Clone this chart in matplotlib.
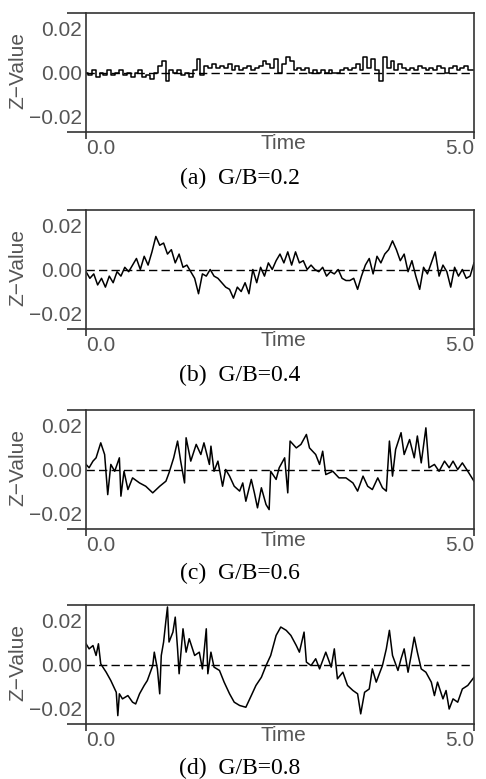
import numpy as np
import matplotlib
matplotlib.use("Agg")
import matplotlib.pyplot as plt

# time grid for panel (a) and (b) (read every 0.05)
t_ab = np.linspace(0, 5, 101)

# Z-values in units of 1e-3
z_a = [0, -1, 1, -2, 0, -1, 1, -1, 0, 1, -1, 0, -2, 0, 1, -2, -1, -3, 0, 3,
       5, -4, 1, 0, 1, -1, 0, -2, 1, 6, -1, 3, 2, 4, 2, 3, 2, 4, 1, 3,
       1, 2, 3, 1, 2, 3, 5, 4, 2, 6, 0, 4, 7, 5, 1, 2, 1, 2, 0, 1,
       0, 1, 0, 1, 0, 0, 1, 2, 1, 2, 4, 1, 7, 2, 6, 1, -4, 7, 2, 5,
       1, 4, 2, 1, 2, 1, 3, 2, 1, 2, 1, 3, 2, 0, 2, 3, 1, 2, 3, 1, 1]

z_b = [-1, -4, -2, -7, -4, -8, -3, -6, -1, -3, 1, -1, 2, 5, 0, 6, 2, 8, 15, 11,
       12, 7, 9, 3, 7, 1, 2, -1, -4, -11, -2, -3, 0, -3, -4, -6, -8, -9, -13, -8,
       -10, -6, -11, 0, -6, 1, -3, 3, 0, 4, 7, 3, 8, 2, 8, 3, 4, 0, 2, 0,
       -1, 1, -3, -1, -2, 0, -4, -5, -5, -4, -9, -3, 2, 5, -2, 6, 3, 7, 9, 13,
       9, 4, 7, -1, 4, -3, -9, 1, -2, 3, 8, -3, 2, -1, -8, 1, -3, 0, -4, -3, 3]

t_c = [0.00, 0.04, 0.09, 0.13, 0.19, 0.24, 0.28, 0.32, 0.37, 0.43, 0.45, 0.49, 0.54, 0.60,
       0.69, 0.77, 0.86, 0.95, 1.03, 1.07, 1.13, 1.18, 1.22, 1.27, 1.29, 1.35, 1.42, 1.48,
       1.52, 1.59, 1.61, 1.65, 1.70, 1.76, 1.80, 1.85, 1.91, 1.98, 2.02, 2.06, 2.13, 2.17,
       2.21, 2.26, 2.32, 2.36, 2.38, 2.45, 2.49, 2.56, 2.60, 2.63, 2.71, 2.77, 2.84, 2.88,
       2.96, 3.01, 3.05, 3.09, 3.18, 3.26, 3.35, 3.44, 3.50, 3.57, 3.63, 3.69, 3.76, 3.82,
       3.87, 3.91, 3.95, 3.99, 4.06, 4.10, 4.17, 4.23, 4.27, 4.32, 4.38, 4.42, 4.49, 4.55,
       4.62, 4.68, 4.73, 4.79, 4.85, 4.92, 5.00]
z_c = [2.3, 0.8, 3.8, 5.3, 12.1, 6.8, -11.4, 2.3, -0.8, 5.3, -12.1, -0.8, -9.1, -3.8,
       -6.1, -7.6, -10.6, -7.6, -5.3, -1.5, 5.3, 12.9, 3.8, -6.1, 14.4, 3.8, 11.4, 6.8,
       12.1, 2.3, 10.6, -0.8, 3.8, -7.6, 0.0, -3.0, -7.6, -9.8, -6.1, -14.4, -4.5, -10.6,
       -17.4, -8.3, -15.9, -18.2, -0.8, -4.5, 0.8, 5.3, -10.6, 12.9, 9.8, 11.4, 15.9, 9.8,
       6.8, 2.3, 8.3, -2.3, -0.8, -3.8, -3.8, -6.1, -9.8, -3.0, -7.6, -9.1, -3.8, -8.3,
       -9.8, 12.9, -3.0, 9.1, 16.7, 6.8, 13.6, 5.3, 15.2, 3.0, 18.9, 0.8, 2.3, -0.8,
       3.8, 0.8, 3.8, 0.0, 3.0, -0.8, -5.3]

t_d = [0.00, 0.04, 0.09, 0.13, 0.16, 0.19, 0.26, 0.32, 0.39, 0.41, 0.43, 0.47, 0.54, 0.60,
       0.64, 0.69, 0.75, 0.79, 0.86, 0.88, 0.92, 0.95, 0.97, 1.00, 1.03, 1.05, 1.07, 1.12,
       1.15, 1.18, 1.20, 1.25, 1.29, 1.33, 1.40, 1.46, 1.50, 1.55, 1.57, 1.61, 1.65, 1.72,
       1.78, 1.85, 1.91, 1.98, 2.06, 2.13, 2.19, 2.26, 2.32, 2.38, 2.45, 2.51, 2.58, 2.64,
       2.71, 2.75, 2.81, 2.84, 2.90, 2.96, 3.01, 3.09, 3.16, 3.20, 3.24, 3.31, 3.37, 3.44,
       3.50, 3.54, 3.59, 3.65, 3.69, 3.74, 3.78, 3.82, 3.87, 3.91, 3.95, 4.02, 4.06, 4.10,
       4.15, 4.19, 4.23, 4.27, 4.32, 4.38, 4.45, 4.49, 4.53, 4.60, 4.64, 4.68, 4.73, 4.79,
       4.85, 4.92, 5.00]
z_d = [9.4, 7.1, 8.6, 4.1, 9.4, 0.3, -3.5, -7.3, -12.6, -23.2, -13.3, -15.6, -14.1, -17.1,
       -17.9, -13.3, -9.5, -7.3, -0.5, 5.6, -2.0, -13.3, 4.1, 10.2, 20.0, 26.1, 10.2, 14.7,
       21.5, 7.1, -4.2, 16.2, 5.6, 11.7, 4.1, 5.6, -2.0, 16.2, -4.2, 5.6, -1.2, -2.7,
       -8.0, -13.3, -17.1, -18.6, -19.4, -14.1, -9.5, -5.8, -0.5, 4.1, 13.2, 17.0, 15.5, 13.2,
       8.6, 5.6, 14.7, 1.1, -0.5, 2.6, -2.0, 5.6, -1.2, 7.1, -6.5, -3.5, -9.5, -11.8,
       -13.3, -22.4, -12.6, -11.1, -2.0, -8.0, -4.2, -0.5, 7.1, 15.5, 4.1, -2.7, 2.6, 7.1,
       -3.5, 4.1, 12.4, 5.6, -2.0, -3.5, -8.0, -14.1, -8.0, -15.6, -11.8, -20.2, -15.6, -17.1,
       -11.1, -9.5, -5.8]

panels = [
    (t_ab, z_a, "(a)  G/B=0.2", "steps-mid"),
    (t_ab, z_b, "(b)  G/B=0.4", "default"),
    (t_c, z_c, "(c)  G/B=0.6", "default"),
    (t_d, z_d, "(d)  G/B=0.8", "default"),
]

plt.rcParams["font.family"] = ["Liberation Sans", "DejaVu Sans"]
W, H = 486, 779
fig = plt.figure(figsize=(W / 100, H / 100), dpi=100)

tops = [13, 210, 410, 605]
caption_y = [178, 375, 573, 768]
gray = "#555555"
frame = "#333333"

for (t, z, cap, ds), top, cy in zip(panels, tops, caption_y):
    ax = fig.add_axes([86 / W, 1 - (top + 119) / H, 388 / W, 119 / H])
    ax.plot(t, np.array(z) * 1e-3, color="black", lw=1.1, drawstyle=ds)
    ax.axhline(0, color="black", lw=1.0, ls=(0, (6, 3)))
    ax.set_xlim(0, 5)
    ax.set_ylim(-0.027, 0.027)

    for s in ax.spines.values():
        s.set_color(frame)
        s.set_linewidth(1.2)

    ax.set_yticks([-0.02, 0.0, 0.02])
    ax.set_yticklabels(["\u22120.02", "0.00", "0.02"])
    ax.set_yticks([-0.027, 0.027], minor=True)
    ax.tick_params(axis="y", which="major", length=0, pad=3, labelsize=15, labelcolor=gray)
    ax.tick_params(axis="y", which="minor", length=14, width=1.2, color=frame)

    ax.set_xticks([0, 5])
    ax.set_xticklabels(["0.0", "5.0"])
    ax.tick_params(axis="x", which="major", length=5, width=1.2, color=frame,
                   pad=0, labelsize=15, labelcolor=gray)
    xl = ax.get_xticklabels()
    xl[0].set_horizontalalignment("left")
    xl[1].set_horizontalalignment("right")

    ax.text(0.508, -0.095, "Time", transform=ax.transAxes, ha="center", va="center",
            fontsize=15, color=gray)
    ax.text(-0.175, 0.52, "Z\u2212Value", transform=ax.transAxes, rotation=90,
            ha="center", va="center", fontsize=15, color=gray)

    fig.text(240 / W, 1 - cy / H, cap, ha="center", va="center",
             fontsize=17, family="Liberation Serif")

fig.savefig("out.png", dpi=100)
